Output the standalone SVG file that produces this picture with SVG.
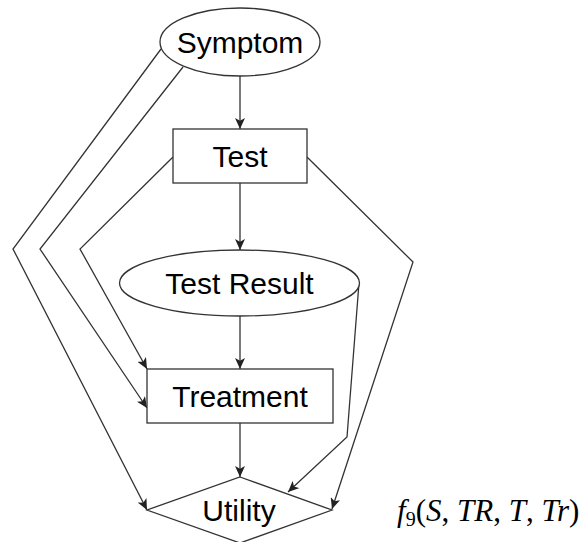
<svg xmlns="http://www.w3.org/2000/svg" width="586" height="542" viewBox="0 0 586 542">
  <style>
    .shape { fill: #ffffff; stroke: #333333; stroke-width: 1.3; }
    .edge { fill: none; stroke: #333333; stroke-width: 1.3; marker-end: url(#arrow); }
    .label { font-family: "Liberation Sans", Arial, sans-serif; font-size: 30px; fill: #000000; text-anchor: middle; }
    .math { font-family: "Liberation Serif", "Times New Roman", serif; font-size: 31px; fill: #000000; }
    .it { font-style: italic; }
  </style>
  <defs>
    <marker id="arrow" markerUnits="userSpaceOnUse" markerWidth="11" markerHeight="10" viewBox="0 0 11 10" refX="11" refY="5" orient="auto">
      <path d="M0,0 L11,5 L0,10 L2.8,5 z" fill="#222222"/>
    </marker>
  </defs>

  <!-- connectors -->
  <g id="edges">
    <path class="edge" d="M240,76 L240,129"/>
    <path class="edge" d="M161,49 L13,249 L147,510"/>
    <path class="edge" d="M183,67 L40,249 L147,408"/>
    <path class="edge" d="M173,157 L80,249 L147,369"/>
    <path class="edge" d="M307,157 L413,262 L332,509"/>
    <path class="edge" d="M240,183 L240,250"/>
    <path class="edge" d="M240,316 L240,369"/>
    <path class="edge" d="M240,423 L240,477"/>
    <path class="edge" d="M359,283 L347,437 L288,492"/>
  </g>

  <!-- nodes -->
  <g id="symptom">
    <ellipse class="shape" cx="240" cy="42" rx="80" ry="34"/>
    <text class="label" x="240" y="53">Symptom</text>
  </g>
  <g id="test">
    <rect class="shape" x="173" y="129" width="134" height="54"/>
    <text class="label" x="240" y="167">Test</text>
  </g>
  <g id="test-result">
    <ellipse class="shape" cx="239.5" cy="283" rx="120" ry="33"/>
    <text class="label" x="239.5" y="294">Test Result</text>
  </g>
  <g id="treatment">
    <rect class="shape" x="147" y="369" width="186" height="54"/>
    <text class="label" x="240" y="407">Treatment</text>
  </g>
  <g id="utility">
    <polygon class="shape" points="240,477 332,510 240,543 147,510"/>
    <text class="label" x="239" y="521">Utility</text>
  </g>

  <!-- utility function label -->
  <text class="math" x="397" y="521"><tspan class="it">f</tspan><tspan font-size="20" dy="5">9</tspan><tspan dy="-5">(</tspan><tspan class="it">S</tspan>, <tspan class="it">TR</tspan>, <tspan class="it">T</tspan>, <tspan class="it">Tr</tspan>)</text>
</svg>
